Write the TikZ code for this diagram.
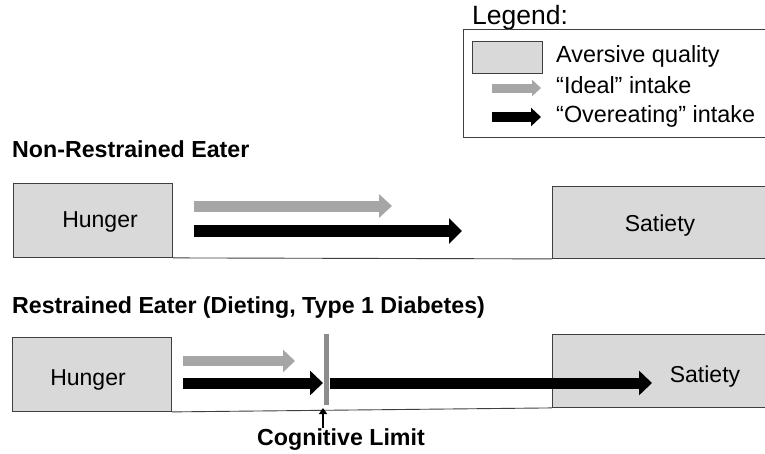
\documentclass[tikz,border=0pt]{standalone}
\usepackage{fontspec}
\setmainfont{Liberation Sans}
\usetikzlibrary{arrows.meta}
\definecolor{boxfill}{HTML}{D9D9D9}
\definecolor{boxline}{HTML}{3F3F3F}
\definecolor{idealgray}{HTML}{A6A6A6}
\definecolor{limitgray}{HTML}{8C8C8C}
\tikzset{
  aversive/.style={draw=boxline, fill=boxfill, line width=0.9pt},
  lbl/.style={font=\fontsize{23}{27}\selectfont, inner sep=0pt, anchor=base},
  leglbl/.style={font=\fontsize{23.4}{27}\selectfont, inner sep=0pt, anchor=base west},
  ttl/.style={font=\fontsize{23.2}{27}\selectfont\bfseries, inner sep=0pt, anchor=base west},
  idealarrow/.style={draw=idealgray, line width=11pt, -{Triangle[length=13pt, width=23pt]}},
  overarrow/.style={draw=black, line width=12pt, -{Triangle[length=13pt, width=25pt]}},
  baseline/.style={draw=boxline, line width=0.9pt},
}
\begin{document}
\begin{tikzpicture}[x=1pt, y=-1pt]
\useasboundingbox (0,0) rectangle (765,453);
\fill[white] (0,0) rectangle (765,453);

% Legend
\node[leglbl, font=\fontsize{26.5}{30}\selectfont] (legtitle) at (472,24) {Legend:};
\draw[draw=boxline, line width=0.9pt] (463,29) rectangle (768,137);
\path[aversive] (472,41) rectangle (542,73);
\node[leglbl] (legav) at (556,62) {Aversive quality};
\coordinate (lga) at (492,88);
\coordinate (lgb) at (541,88);
\draw[draw=idealgray, line width=9pt, -{Triangle[length=9pt, width=16pt]}] (lga) -- (lgb);
\node[leglbl] (legideal) at (556,93) {“Ideal” intake};
\coordinate (lba) at (492,117);
\coordinate (lbb) at (541,117);
\draw[draw=black, line width=10pt, -{Triangle[length=10pt, width=18pt]}] (lba) -- (lbb);
\node[leglbl] (legover) at (556,122) {“Overeating” intake};

% Non-restrained eater
\node[ttl] (title1) at (12,157) {Non-Restrained Eater};
\node[aversive, minimum width=159pt, minimum height=74pt, inner sep=0pt, anchor=north west] (hunger1) at (13,183) {};
\node[lbl] (hungertext1) at (100,227) {Hunger};
\node[aversive, minimum width=220pt, minimum height=72pt, inner sep=0pt, anchor=north west] (satiety1) at (552,186) {};
\node[lbl] (satietytext1) at (660,231) {Satiety};
\draw[baseline] (hunger1.south east) -- (satiety1.south west);
\coordinate (i1a) at (194,206);
\coordinate (i1b) at (392,206);
\draw[idealarrow] (i1a) -- (i1b);
\coordinate (o1a) at (194,231);
\coordinate (o1b) at (462,231);
\draw[overarrow] (o1a) -- (o1b);

% Restrained eater
\node[ttl] (title2) at (12,313) {Restrained Eater (Dieting, Type 1 Diabetes)};
\node[aversive, minimum width=159pt, minimum height=74pt, inner sep=0pt, anchor=north west] (hunger2) at (12,337) {};
\node[lbl] (hungertext2) at (88,385) {Hunger};
\node[aversive, minimum width=220pt, minimum height=73pt, inner sep=0pt, anchor=north west] (satiety2) at (552,334) {};
\draw[baseline] (hunger2.south east) -- (satiety2.south west);
\coordinate (i2a) at (183,361);
\coordinate (i2b) at (295,361);
\draw[idealarrow, line width=10pt, -{Triangle[length=12pt, width=22pt]}] (i2a) -- (i2b);
\coordinate (o2a) at (183,383);
\coordinate (o2b) at (323,383);
\draw[overarrow, line width=11pt, -{Triangle[length=13pt, width=24pt]}] (o2a) -- (o2b);
\coordinate (lima) at (326,334);
\coordinate (limb) at (326,405);
\draw[draw=limitgray, line width=5pt] (lima) -- (limb);
\coordinate (o3a) at (330,383);
\coordinate (o3b) at (652,383);
\draw[overarrow, line width=11pt, -{Triangle[length=13pt, width=24pt]}] (o3a) -- (o3b);
\node[lbl] (satietytext2) at (705,382) {Satiety};
\node[ttl, anchor=base] (coglim) at (341,445) {Cognitive Limit};
\coordinate (cla) at (323,428);
\coordinate (clb) at (323,408);
\draw[draw=black, line width=2.5pt, -{Triangle[length=6pt, width=8pt]}] (cla) -- (clb);
\end{tikzpicture}
\end{document}
